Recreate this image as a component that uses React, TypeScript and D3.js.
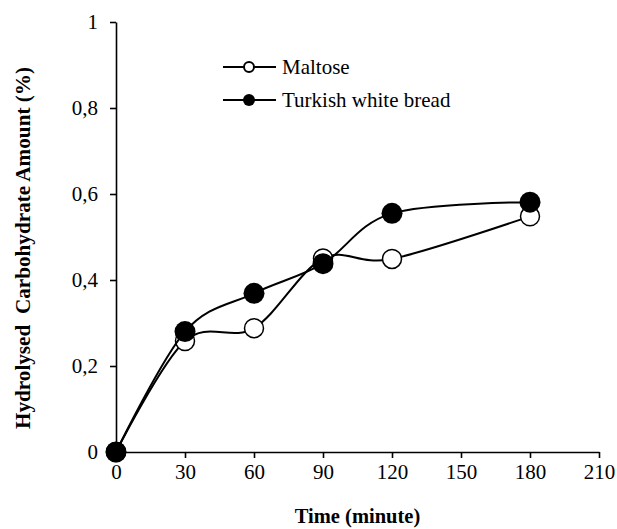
import React, { useEffect, useRef } from 'react';
import * as d3 from 'd3';

const times = [0, 30, 60, 90, 120, 180];
const maltose = [0, 0.258, 0.288, 0.45, 0.449, 0.548];
const bread = [0, 0.28, 0.369, 0.438, 0.555, 0.581];
const xTicks = [0, 30, 60, 90, 120, 150, 180, 210];
const yTicks = [0, 0.2, 0.4, 0.6, 0.8, 1];
const seriesNames = ['Maltose', 'Turkish white bread'];

const W = 617;
const H = 529;
const FONT = '"Liberation Serif", "Times New Roman", serif';

export default function App() {
  const svgRef = useRef<SVGSVGElement>(null);

  useEffect(() => {
    document.body.style.margin = '0';
    const svg = d3.select(svgRef.current);
    svg.selectAll('*').remove();

    const x = d3.scaleLinear().domain([0, 210]).range([116, 599]);
    const y = d3.scaleLinear().domain([0, 1]).range([452, 22]);

    // axes
    const fmt = (v: number) => (v === 0 || v === 1 ? String(v) : d3.format('.1f')(v).replace('.', ','));

    const gx = svg.append('g').attr('transform', `translate(0,${y(0)})`)
      .call(d3.axisBottom(x).tickValues(xTicks).tickSize(6).tickSizeOuter(0).tickPadding(6));
    const gy = svg.append('g').attr('transform', `translate(${x(0)},0)`)
      .call(d3.axisLeft(y).tickValues(yTicks).tickSize(6).tickSizeOuter(0).tickPadding(12).tickFormat(fmt as any));

    [gx, gy].forEach(g => {
      g.select('.domain').attr('stroke', '#000').attr('stroke-width', 1.6);
      g.selectAll('.tick line').attr('stroke', '#000').attr('stroke-width', 1.6);
      g.selectAll('.tick text').attr('fill', '#000').attr('font-family', FONT).attr('font-size', 21);
    });

    // axis titles
    svg.append('text')
      .attr('x', (x(0) + x(210)) / 2).attr('y', 523)
      .attr('text-anchor', 'middle')
      .attr('font-family', FONT).attr('font-weight', 'bold').attr('font-size', 20.5)
      .text('Time (minute)');

    svg.append('text')
      .attr('transform', `translate(30,${248}) rotate(-90)`)
      .attr('text-anchor', 'middle')
      .attr('font-family', FONT).attr('font-weight', 'bold').attr('font-size', 21.2)
      .style('white-space', 'pre')
      .text('Hydrolysed  Carbohydrate Amount (%)');

    const line = d3.line<number>()
      .x((_, i) => x(times[i]))
      .y(d => y(d))
      .curve(d3.curveCardinal.tension(0));

    // maltose
    svg.append('path').datum(maltose).attr('d', line)
      .attr('fill', 'none').attr('stroke', '#000').attr('stroke-width', 2);
    svg.append('g').selectAll('circle').data(maltose).join('circle')
      .attr('cx', (_, i) => x(times[i])).attr('cy', d => y(d)).attr('r', 9.5)
      .attr('fill', '#fff').attr('stroke', '#000').attr('stroke-width', 1.5);

    // bread
    svg.append('path').datum(bread).attr('d', line)
      .attr('fill', 'none').attr('stroke', '#000').attr('stroke-width', 2);
    svg.append('g').selectAll('circle').data(bread).join('circle')
      .attr('cx', (_, i) => x(times[i])).attr('cy', d => y(d)).attr('r', 10.5)
      .attr('fill', '#000');

    // legend
    const leg = svg.append('g');
    seriesNames.forEach((name, i) => {
      const ly = 67 + i * 33;
      leg.append('line').attr('x1', 223).attr('x2', 276).attr('y1', ly).attr('y2', ly)
        .attr('stroke', '#000').attr('stroke-width', 2);
      leg.append('circle').attr('cx', 249).attr('cy', ly).attr('r', i === 0 ? 5 : 6)
        .attr('fill', i === 0 ? '#fff' : '#000').attr('stroke', '#000').attr('stroke-width', i === 0 ? 2 : 0);
      leg.append('text').attr('x', 282).attr('y', ly).attr('dy', '0.35em')
        .attr('font-family', FONT).attr('font-size', 21).text(name);
    });
  }, []);

  return (
    <svg ref={svgRef} width={W} height={H} style={{ display: 'block', background: '#fff' }} />
  );
}
